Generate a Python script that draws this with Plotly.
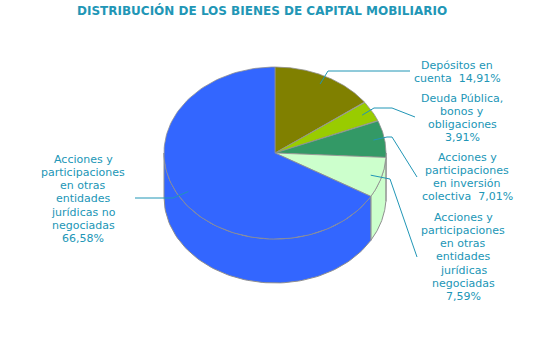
import numpy as np
import plotly.graph_objects as go

# ---- data ----
labels = [
    "Depósitos en cuenta",
    "Deuda Pública, bonos y obligaciones",
    "Acciones y participaciones en inversión colectiva",
    "Acciones y participaciones en otras entidades jurídicas negociadas",
    "Acciones y participaciones en otras entidades jurídicas no negociadas",
]
values = [14.91, 3.91, 7.01, 7.59, 66.58]
colors = ["#808000", "#99CC00", "#339966", "#CCFFCC", "#3366FF"]
label_wrap = [
    "Depósitos en\ncuenta\u00a0\u00a0{p}",
    "Deuda Pública,\nbonos y\nobligaciones\n{p}",
    "Acciones y\nparticipaciones\nen inversión\ncolectiva\u00a0\u00a0{p}",
    "Acciones y\nparticipaciones\nen otras\nentidades\njurídicas\nnegociadas\n{p}",
    "Acciones y\nparticipaciones\nen otras\nentidades\njurídicas no\nnegociadas\n{p}",
]
title = "DISTRIBUCIÓN DE LOS BIENES DE CAPITAL MOBILIARIO"

# ---- layout constants (pixel space) ----
CX, CY, RX, RY, DEPTH = 275, 153, 111, 86, 44
TEXT_COLOR = "#2196B6"
EDGE = "#8f8f8f"
label_pos = [(457, 65), (462, 98), (467, 157), (463, 217), (83, 159)]
leader_path = [
    [(328, 71), (410, 71)],
    [(374, 108), (392, 108), (415, 117)],
    [(387, 137), (392, 137), (417, 177)],
    [(390, 179), (417, 257)],
    [(173, 198), (135, 198)],
]
LINE_H = 13.3


def pt(theta_deg, r=1.0, dy=0.0):
    t = np.radians(theta_deg)
    return CX + RX * r * np.sin(t), CY - RY * r * np.cos(t) + dy


fig = go.Figure()

total = sum(values)
bounds = np.concatenate([[0], np.cumsum(values)]) / total * 360.0

# sides (front half only, 90..270 deg clockwise from top)
for i, c in enumerate(colors):
    a, b = max(bounds[i], 90), min(bounds[i + 1], 270)
    if a < b:
        th = np.linspace(a, b, 80)
        xt, yt = pt(th)
        xb, yb = pt(th[::-1], dy=DEPTH)
        fig.add_trace(go.Scatter(
            x=np.concatenate([xt, xb, xt[:1]]), y=np.concatenate([yt, yb, yt[:1]]),
            mode="lines", fill="toself", fillcolor=c,
            line=dict(color=EDGE, width=1), hoverinfo="skip", showlegend=False))
        # vertical edge at slice boundary if visible
# top faces
for i, c in enumerate(colors):
    th = np.linspace(bounds[i], bounds[i + 1], 120)
    xs, ys = pt(th)
    fig.add_trace(go.Scatter(
        x=np.concatenate([[CX], xs, [CX]]), y=np.concatenate([[CY], ys, [CY]]),
        mode="lines", fill="toself", fillcolor=c,
        line=dict(color=EDGE, width=0.8), hoverinfo="skip", showlegend=False,
        name=labels[i]))

# leader lines and labels
for i, v in enumerate(values):
    mid = (bounds[i] + bounds[i + 1]) / 2
    ax, ay = pt(mid, r=0.9)
    px = [ax] + [p[0] for p in leader_path[i]]
    py = [ay] + [p[1] for p in leader_path[i]]
    fig.add_trace(go.Scatter(x=px, y=py, mode="lines",
                             line=dict(color=TEXT_COLOR, width=1),
                             hoverinfo="skip", showlegend=False))
    pct = f"{v:.2f}".replace(".", ",") + "%"
    lines = label_wrap[i].format(p=pct).split("\n")
    x0, y0 = label_pos[i]
    for k, ln in enumerate(lines):
        fig.add_annotation(x=x0, y=y0 + k * LINE_H, text=ln, showarrow=False,
                           xanchor="center", yanchor="middle",
                           font=dict(family="DejaVu Sans", size=11, color=TEXT_COLOR))

fig.add_annotation(x=262, y=10, text="<b>" + title + "</b>", showarrow=False,
                   xanchor="center", yanchor="middle",
                   font=dict(family="DejaVu Sans", size=12, color=TEXT_COLOR))

fig.update_layout(
    width=550, height=350, margin=dict(l=0, r=0, t=0, b=0),
    paper_bgcolor="white", plot_bgcolor="white", showlegend=False,
    xaxis=dict(range=[0, 550], visible=False, fixedrange=True),
    yaxis=dict(range=[350, 0], visible=False, fixedrange=True),
)

fig.write_html("out.html")
